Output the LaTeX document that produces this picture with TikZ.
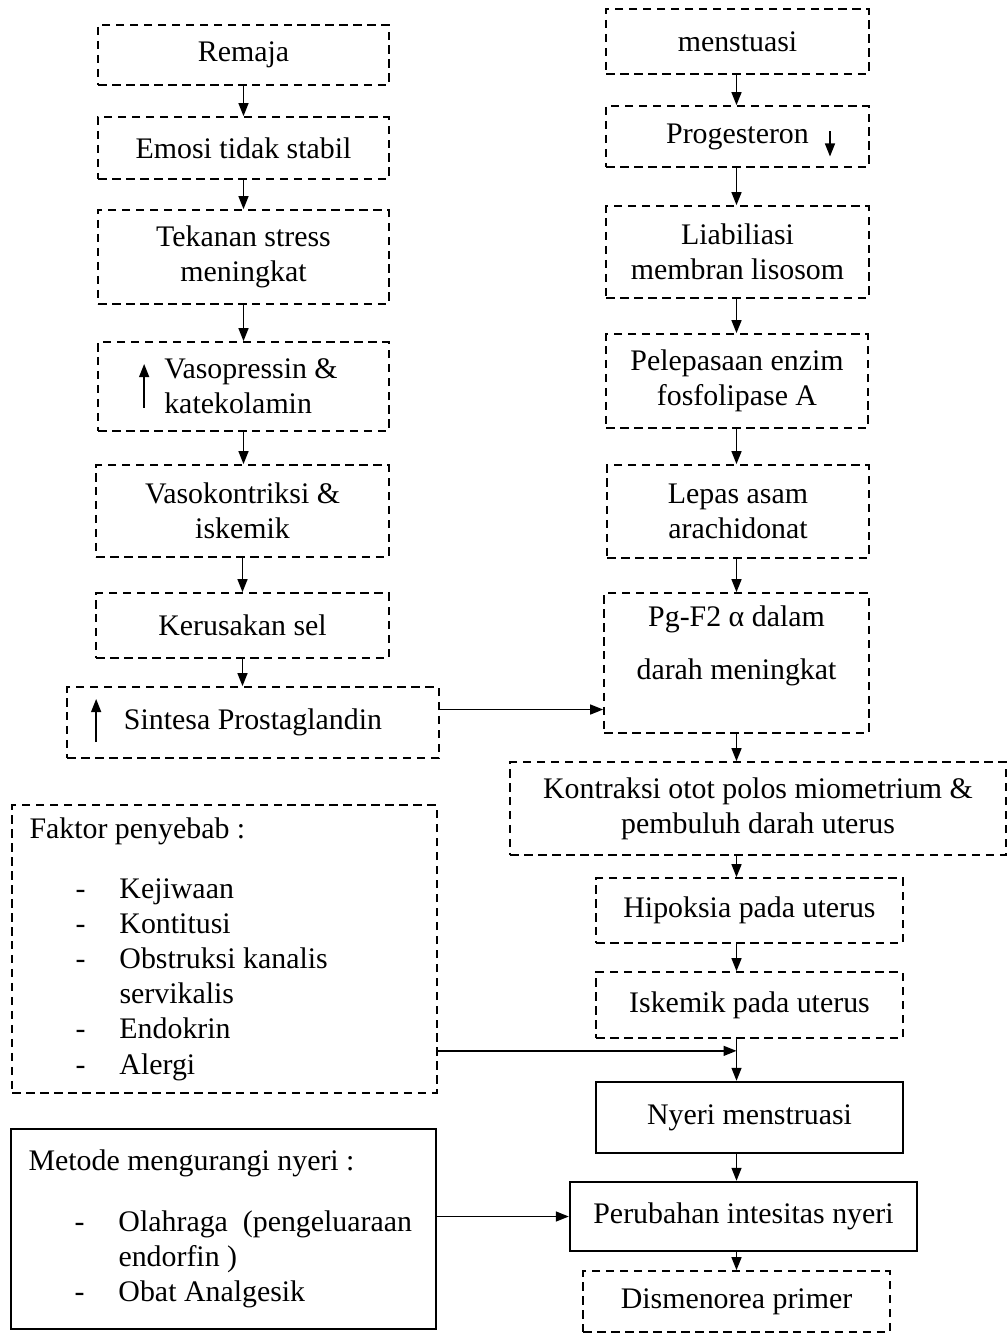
\documentclass[tikz,border=0pt]{standalone}
\usepackage{fontspec}
\setmainfont{Liberation Serif}
\usetikzlibrary{arrows.meta}
\tikzset{
  >={Triangle[length=2.6mm,width=2mm]},
  txt/.style={font=\fontsize{17}{20}\selectfont,align=center},
  dbox/.style={txt,draw,line width=1pt,dash pattern=on 0.17cm off 0.11cm,inner sep=0pt},
  sbox/.style={txt,draw,line width=1.4pt,inner sep=0pt},
  flow/.style={->,line width=0.8pt},
  % long list boxes
  listbox/.style={font=\fontsize{17}{20}\selectfont,align=flush left,text width=7.8cm,inner xsep=0.35cm},
}
\newcommand{\itm}[1]{\makebox[1.8cm][l]{\hspace{0.92cm}-}#1}
\newcommand{\cnt}[1]{\makebox[1.8cm][l]{}#1}

\begin{document}
\begin{tikzpicture}[x=0.02cm,y=-0.02cm]
  \fill[white] (0,0) rectangle (1007,1334);
  \useasboundingbox (0,0) rectangle (1007,1334);

  % left column
  \node[dbox,minimum width=5.82cm,minimum height=1.2cm] (rem) at (243.5,55) {Remaja};
  \node[dbox,minimum width=5.82cm,minimum height=1.24cm] (emo) at (243.5,148) {Emosi tidak stabil};
  \node[dbox,minimum width=5.82cm,minimum height=1.88cm] (tek) at (243.5,257) {Tekanan stress\\meningkat};
  \node[dbox,minimum width=5.82cm,minimum height=1.78cm,align=left] (vas) at (243.5,386.5) {\hspace*{0.3cm}Vasopressin \&\\\hspace*{0.3cm}katekolamin};
  \draw[flow] ([xshift=0.94cm,yshift=-0.43cm]vas.west) -- ([xshift=0.94cm,yshift=0.45cm]vas.west);
  \node[dbox,minimum width=5.86cm,minimum height=1.84cm] (vak) at (242.5,511) {Vasokontriksi \&\\iskemik};
  \node[dbox,minimum width=5.86cm,minimum height=1.3cm] (ker) at (242.5,625.5) {Kerusakan sel};
  \node[dbox,minimum width=7.44cm,minimum height=1.42cm] (sin) at (253,722.5) {Sintesa Prostaglandin};
  \draw[flow] ([xshift=0.6cm,yshift=-0.39cm]sin.west) -- ([xshift=0.6cm,yshift=0.47cm]sin.west);

  \node[dbox,listbox,minimum width=8.5cm,minimum height=5.76cm] (fak) at (224.5,949) {Faktor penyebab :\\[0.5cm]
    \itm{Kejiwaan}\\\itm{Kontitusi}\\\itm{Obstruksi kanalis}\\\cnt{servikalis}\\\itm{Endokrin}\\\itm{Alergi}};
  \node[sbox,listbox,minimum width=8.46cm,minimum height=4cm] (met) at (223.5,1229) {Metode mengurangi nyeri :\\[0.5cm]
    \itm{Olahraga\ \ (pengeluaraan}\\\cnt{endorfin )}\\\itm{Obat Analgesik}};

  % right column
  \node[dbox,minimum width=5.26cm,minimum height=1.3cm] (men) at (737.5,41.5) {menstuasi};
  \node[dbox,minimum width=5.26cm,minimum height=1.22cm] (pro) at (737.5,136.5) {Progesteron};
  \draw[flow] ([xshift=1.85cm,yshift=0.1cm]pro.center) -- ([xshift=1.85cm,yshift=-0.4cm]pro.center);
  \node[dbox,minimum width=5.26cm,minimum height=1.84cm] (lia) at (737.5,252) {Liabiliasi\\membran lisosom};
  \node[dbox,minimum width=5.24cm,minimum height=1.88cm] (pel) at (737,381) {Pelepasaan enzim\\fosfolipase A};
  \node[dbox,minimum width=5.24cm,minimum height=1.86cm] (lep) at (738,511.5) {Lepas asam\\arachidonat};
  \node[dbox,minimum width=5.3cm,minimum height=2.8cm] (pg) at (736.5,663) {};
  \node[txt] (pgt) at ([yshift=0.34cm]pg.center) {Pg-F2 α dalam\\[0.36cm]darah meningkat};
  \node[dbox,minimum width=9.92cm,minimum height=1.86cm] (kon) at (758,808.5) {Kontraksi otot polos miometrium \&\\pembuluh darah uterus};
  \node[dbox,minimum width=6.14cm,minimum height=1.3cm] (hip) at (749.5,910.5) {Hipoksia pada uterus};
  \node[dbox,minimum width=6.14cm,minimum height=1.32cm] (isk) at (749.5,1005) {Iskemik pada uterus};
  \node[sbox,minimum width=6.14cm,minimum height=1.42cm] (nye) at (749.5,1117.5) {Nyeri menstruasi};
  \node[sbox,minimum width=6.94cm,minimum height=1.38cm] (per) at (743.5,1216.5) {Perubahan intesitas nyeri};
  \node[dbox,minimum width=6.14cm,minimum height=1.22cm] (dis) at (736.5,1301.5) {Dismenorea primer};

  % arrows
  \foreach \a/\b in {rem/emo,emo/tek,tek/vas,vas/vak,vak/ker,ker/sin}
    \draw[flow] (\a.south) -- (\a.south |- \b.north);
  \foreach \a/\b in {men/pro,pro/lia,lia/pel,pel/lep,lep/pg}
    \draw[flow] (\a.south -| pg.south) -- (\b.north -| pg.south);
  \foreach \a/\b in {pg/kon,kon/hip,hip/isk,isk/nye,nye/per,per/dis}
    \draw[flow] (\a.south -| pg.south) -- (\b.north -| pg.south);
  \draw[flow] ([yshift=0.26cm]sin.east) -- ([yshift=0.26cm]sin.east -| pg.west);
  \draw[flow] ([yshift=0.86cm]fak.south east) -- ([yshift=0.86cm]fak.south east -| pg.south);
  \draw[flow] (per.west -| met.east) -- (per.west);
\end{tikzpicture}
\end{document}
